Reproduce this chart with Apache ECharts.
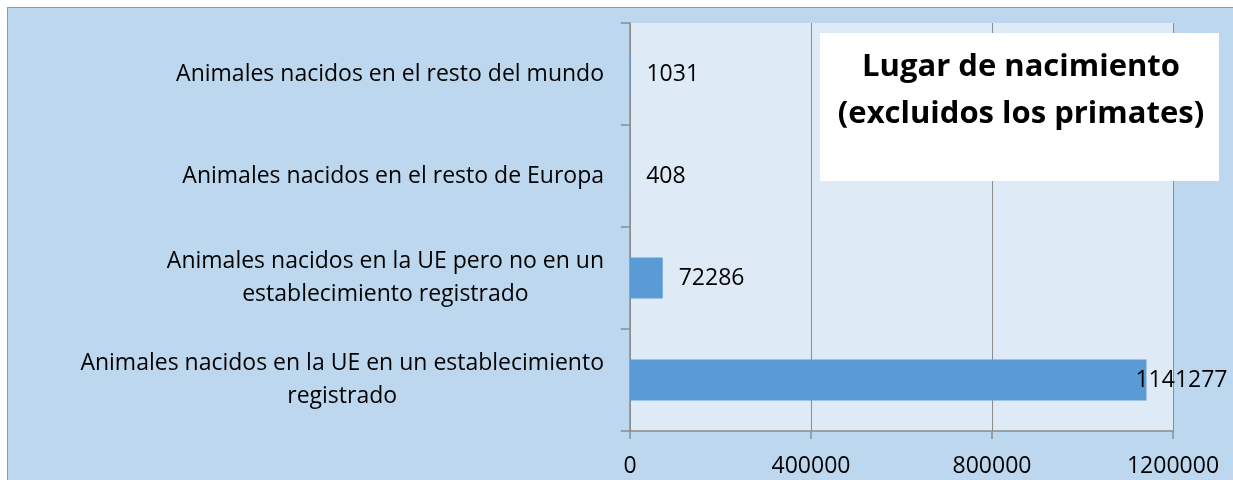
<!DOCTYPE html>
<html>
<head>
<meta charset="utf-8">
<script src="https://cdn.jsdelivr.net/npm/echarts@6/dist/echarts.min.js"></script>
<style>
  html, body { margin: 0; padding: 0; background: #ffffff; }
  #wrap { position: relative; width: 1233px; height: 480px; background: #ffffff; overflow: hidden; }
  #frame { position: absolute; left: 7px; top: 7px; width: 1240px; height: 490px; background: #BDD7EE; border: 1px solid #9A9A9A; box-sizing: border-box; }
  #chart { position: absolute; left: 0; top: 0; width: 1233px; height: 480px; }
</style>
</head>
<body>
<div id="wrap"><div id="frame"></div><div id="chart"></div></div>
<script>
// Categories, top to bottom
const categories = [
  'Animales nacidos en el resto del mundo',
  'Animales nacidos en el resto de Europa',
  'Animales nacidos en la UE pero no en un\nestablecimiento registrado',
  'Animales nacidos en la UE en un establecimiento\nregistrado'
];
const values = [1031, 408, 72286, 1141277];
const xMin = 0, xMax = 1200000, xInterval = 400000;
const titleText = 'Lugar de nacimiento\n(excluidos los primates)';

const FONT = 'Open Sans';
const FS = 23;
const chart = echarts.init(document.getElementById('chart'), null, { renderer: 'canvas' });

const seriesData = values.map((v, i) => {
  const item = { value: v };
  if (v === Math.max(...values)) item.label = { offset: [-27, 0] };
  return item;
});

chart.setOption({
  backgroundColor: 'transparent',
  animation: false,
  title: {
    text: titleText,
    left: 1021, top: 44, textAlign: 'center', padding: 0, z: 100,
    textStyle: { fontFamily: FONT, fontWeight: 'bold', fontSize: 31, lineHeight: 47, color: '#000' }
  },
  graphic: [{
    type: 'rect', z: 50, silent: true,
    shape: { x: 820, y: 33, width: 399, height: 148 },
    style: { fill: '#ffffff' }
  }],
  grid: {
    left: 630, top: 23, width: 543, height: 408,
    show: true, backgroundColor: '#DEEAF6', borderWidth: 0
  },
  xAxis: {
    type: 'value', min: xMin, max: xMax, interval: xInterval,
    axisLine: { show: true, lineStyle: { color: '#8C8C8C', width: 1.5 } },
    axisTick: { show: true, length: 8, lineStyle: { color: '#8C8C8C', width: 1.5 } },
    splitLine: { show: true, lineStyle: { color: '#8C8C8C', width: 1 } },
    axisLabel: { formatter: v => String(v), fontFamily: FONT, fontSize: FS, color: '#000', margin: 24 }
  },
  yAxis: {
    type: 'category', data: categories, inverse: true,
    axisLine: { show: true, lineStyle: { color: '#8C8C8C', width: 1.5 } },
    axisTick: { show: true, length: 9, lineStyle: { color: '#8C8C8C', width: 1.5 } },
    axisLabel: {
      margin: 26, color: '#000', fontFamily: FONT, fontSize: FS, lineHeight: 33,
      formatter: v => v.split('\n').map(s => '{c|' + s + '}').join('\n'),
      rich: { c: { align: 'center', fontFamily: FONT, fontSize: FS, lineHeight: 33, color: '#000' } }
    }
  },
  series: [{
    type: 'bar', data: seriesData, barWidth: 41,
    itemStyle: { color: '#5B9BD5' },
    label: {
      show: true, position: 'right', distance: 16, color: '#000',
      fontFamily: FONT, fontSize: FS, formatter: p => String(p.value)
    }
  }]
});
</script>
</body>
</html>
